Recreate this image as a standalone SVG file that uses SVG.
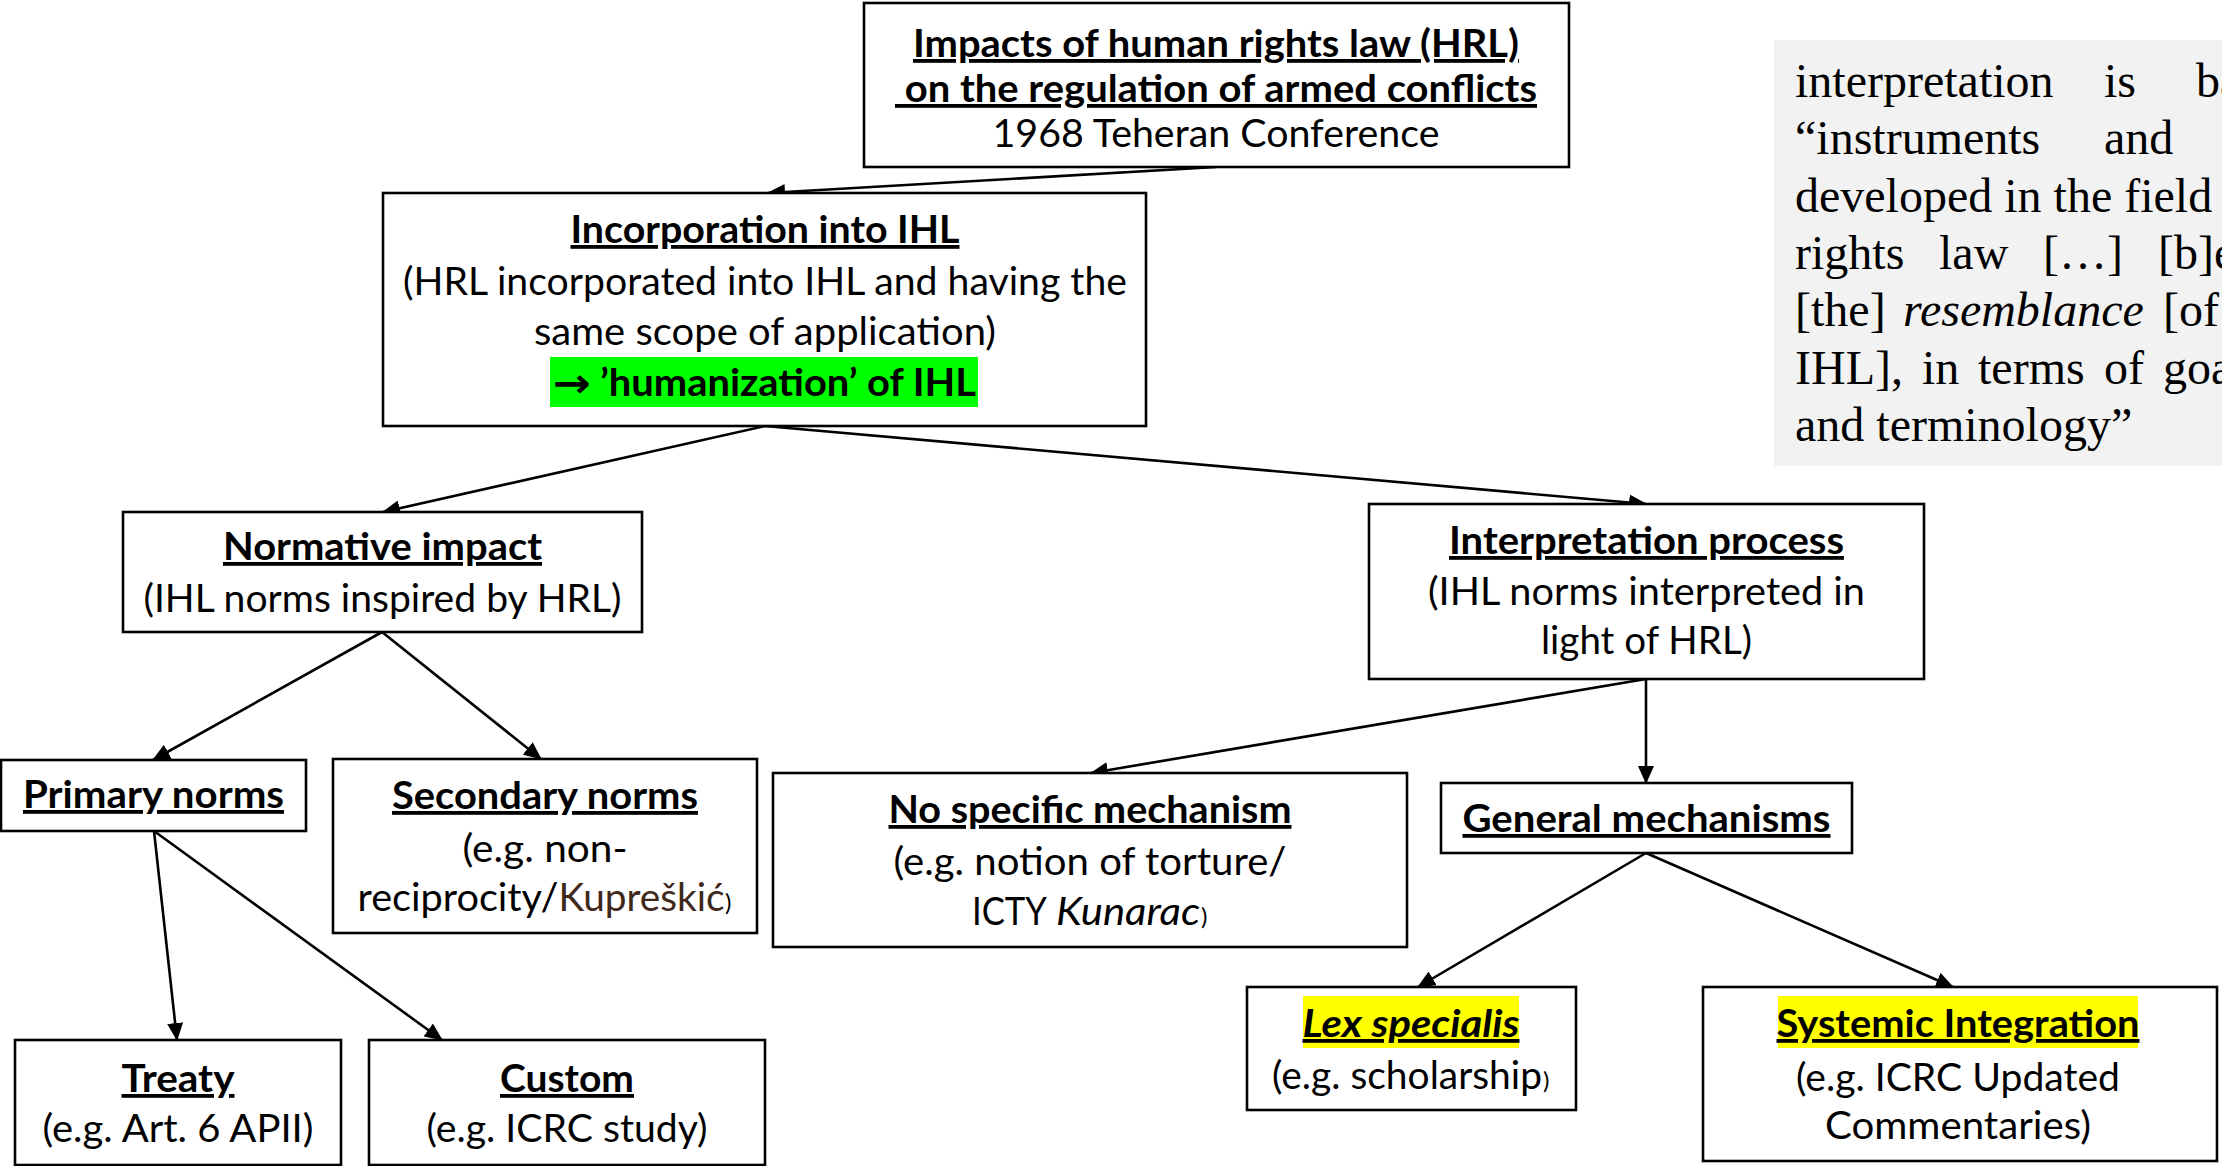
<svg xmlns="http://www.w3.org/2000/svg" width="2222" height="1166" viewBox="0 0 2222 1166">
<defs>
<marker id="ah" markerUnits="userSpaceOnUse" markerWidth="18" markerHeight="16" refX="17" refY="8" orient="auto"><path d="M0,0 L18,8 L0,16 z" fill="#000"/></marker>
<style>
.box{fill:#fff;stroke:#000;stroke-width:2.6}
.t{font-family:Lato,"Open Sans","Liberation Sans",sans-serif;font-size:38px;fill:#000;text-anchor:middle}
.s{text-anchor:start}
.w{font-weight:bold}
.u{text-decoration:underline}
.i{font-style:italic}
.sm{font-size:24px}
.c{stroke:#000;stroke-width:2.6;fill:none;marker-end:url(#ah)}
.q{font-family:"Liberation Serif","Times New Roman",serif;font-size:48px;fill:#000}
</style>
</defs>
<rect width="2222" height="1166" fill="#fff"/>

<g id="quote">
<rect x="1774" y="40" width="448" height="426" fill="#f2f2f2"/>
<text class="q" y="97"><tspan x="1795">interpretation</tspan><tspan x="2104">is</tspan><tspan x="2196">ba</tspan></text>
<text class="q" y="154"><tspan x="1795">“instruments</tspan><tspan x="2104">and</tspan></text>
<text class="q" x="1795" y="212">developed in the field</text>
<text class="q" y="269"><tspan x="1795">rights</tspan><tspan x="1939">law</tspan><tspan x="2043">[…]</tspan><tspan x="2158">[b]e</tspan></text>
<text class="q" y="326"><tspan x="1795">[the]</tspan><tspan x="1903" font-style="italic">resemblance</tspan><tspan x="2163">[of</tspan></text>
<text class="q" y="384"><tspan x="1795">IHL],</tspan><tspan x="1922">in</tspan><tspan x="1978">terms</tspan><tspan x="2104">of</tspan><tspan x="2163">goa</tspan></text>
<text class="q" x="1795" y="441">and terminology”</text>
</g>

<g id="connectors">
<line class="c" x1="1216" y1="167" x2="768" y2="193"/>
<line class="c" x1="765" y1="426" x2="383" y2="512"/>
<line class="c" x1="765" y1="426" x2="1646" y2="504"/>
<line class="c" x1="382" y1="632" x2="153" y2="760"/>
<line class="c" x1="382" y1="632" x2="541" y2="759"/>
<line class="c" x1="154" y1="831" x2="177" y2="1040"/>
<line class="c" x1="154" y1="831" x2="442" y2="1040"/>
<line class="c" x1="1646" y1="679" x2="1091" y2="773"/>
<line class="c" x1="1646" y1="679" x2="1646" y2="783"/>
<line class="c" x1="1646" y1="853" x2="1418" y2="987"/>
<line class="c" x1="1646" y1="853" x2="1953" y2="987"/>
</g>

<g id="n-impacts">
<rect class="box" x="864" y="3" width="705" height="164"/>
<text class="t w u" x="1216" y="57" textLength="606" lengthAdjust="spacingAndGlyphs">Impacts of human rights law (HRL)</text>
<text class="t w u" x="1216" y="102" textLength="642" lengthAdjust="spacingAndGlyphs" xml:space="preserve" style="white-space:pre"> on the regulation of armed conflicts</text>
<text class="t" x="1216" y="147" textLength="447" lengthAdjust="spacingAndGlyphs">1968 Teheran Conference</text>
</g>

<g id="n-incorporation">
<rect class="box" x="383" y="193" width="763" height="233"/>
<text class="t w u" x="765" y="243" textLength="389" lengthAdjust="spacingAndGlyphs">Incorporation into IHL</text>
<text class="t" x="765" y="295" textLength="724" lengthAdjust="spacingAndGlyphs">(HRL incorporated into IHL and having the</text>
<text class="t" x="765" y="345" textLength="462" lengthAdjust="spacingAndGlyphs">same scope of application)</text>
<rect x="550" y="357" width="428" height="50" fill="#00ff00"/>
<text class="t s w" x="553" y="397" textLength="38" lengthAdjust="spacingAndGlyphs" style="font-family:'DejaVu Sans',sans-serif;font-size:40px">→</text>
<text class="t s w" x="600" y="396" textLength="376" lengthAdjust="spacingAndGlyphs">’humanization’ of IHL</text>
</g>

<g id="n-normative">
<rect class="box" x="123" y="512" width="519" height="120"/>
<text class="t w u" x="382.5" y="560" textLength="319" lengthAdjust="spacingAndGlyphs">Normative impact</text>
<text class="t" x="382.5" y="612" textLength="478" lengthAdjust="spacingAndGlyphs">(IHL norms inspired by HRL)</text>
</g>

<g id="n-interpretation">
<rect class="box" x="1369" y="504" width="555" height="175"/>
<text class="t w u" x="1646.5" y="554" textLength="395" lengthAdjust="spacingAndGlyphs">Interpretation process</text>
<text class="t" x="1646.5" y="605" textLength="437" lengthAdjust="spacingAndGlyphs">(IHL norms interpreted in</text>
<text class="t" x="1646.5" y="654" textLength="211" lengthAdjust="spacingAndGlyphs">light of HRL)</text>
</g>

<g id="n-primary">
<rect class="box" x="1" y="760" width="305" height="71"/>
<text class="t w u" x="153.5" y="808" textLength="261" lengthAdjust="spacingAndGlyphs">Primary norms</text>
</g>

<g id="n-secondary">
<rect class="box" x="333" y="759" width="424" height="174"/>
<text class="t w u" x="545" y="809" textLength="306" lengthAdjust="spacingAndGlyphs">Secondary norms</text>
<text class="t" x="545" y="862" textLength="165" lengthAdjust="spacingAndGlyphs">(e.g. non-</text>
<text class="t s" x="357.5" y="911" textLength="201" lengthAdjust="spacingAndGlyphs">reciprocity/</text>
<text class="t s" x="558.5" y="911" textLength="166" lengthAdjust="spacingAndGlyphs" style="fill:#40291a">Kupreškić</text>
<text class="t s sm" x="725" y="911">)</text>
</g>

<g id="n-nospecific">
<rect class="box" x="773" y="773" width="634" height="174"/>
<text class="t w u" x="1090" y="823" textLength="403" lengthAdjust="spacingAndGlyphs">No specific mechanism</text>
<text class="t" x="1090" y="875" textLength="393" lengthAdjust="spacingAndGlyphs">(e.g. notion of torture/</text>
<text class="t s" x="972" y="925" textLength="75" lengthAdjust="spacingAndGlyphs">ICTY</text>
<text class="t s i" x="1056" y="925" textLength="144" lengthAdjust="spacingAndGlyphs">Kunarac</text>
<text class="t s sm" x="1201" y="925">)</text>
</g>

<g id="n-general">
<rect class="box" x="1441" y="783" width="411" height="70"/>
<text class="t w u" x="1646.5" y="832" textLength="368" lengthAdjust="spacingAndGlyphs">General mechanisms</text>
</g>

<g id="n-treaty">
<rect class="box" x="15" y="1040" width="326" height="125"/>
<text class="t w u" x="178" y="1092" textLength="113" lengthAdjust="spacingAndGlyphs">Treaty</text>
<text class="t" x="178" y="1142" textLength="271" lengthAdjust="spacingAndGlyphs">(e.g. Art. 6 APII)</text>
</g>

<g id="n-custom">
<rect class="box" x="369" y="1040" width="396" height="125"/>
<text class="t w u" x="567" y="1092" textLength="134" lengthAdjust="spacingAndGlyphs">Custom</text>
<text class="t" x="567" y="1142" textLength="281" lengthAdjust="spacingAndGlyphs">(e.g. ICRC study)</text>
</g>

<g id="n-lex">
<rect class="box" x="1247" y="987" width="329" height="123"/>
<rect x="1303" y="996" width="216" height="52" fill="#ffff00"/>
<text class="t w u i" x="1411" y="1037" textLength="217" lengthAdjust="spacingAndGlyphs">Lex specialis</text>
<text class="t s" x="1272" y="1089" textLength="270" lengthAdjust="spacingAndGlyphs">(e.g. scholarship</text>
<text class="t s sm" x="1543" y="1089">)</text>
</g>

<g id="n-systemic">
<rect class="box" x="1703" y="987" width="514" height="174"/>
<rect x="1778" y="996" width="360" height="52" fill="#ffff00"/>
<text class="t w u" x="1958" y="1037" textLength="363" lengthAdjust="spacingAndGlyphs">Systemic Integration</text>
<text class="t" x="1958" y="1091" textLength="324" lengthAdjust="spacingAndGlyphs">(e.g. ICRC Updated</text>
<text class="t" x="1958" y="1139" textLength="266" lengthAdjust="spacingAndGlyphs">Commentaries)</text>
</g>
</svg>
